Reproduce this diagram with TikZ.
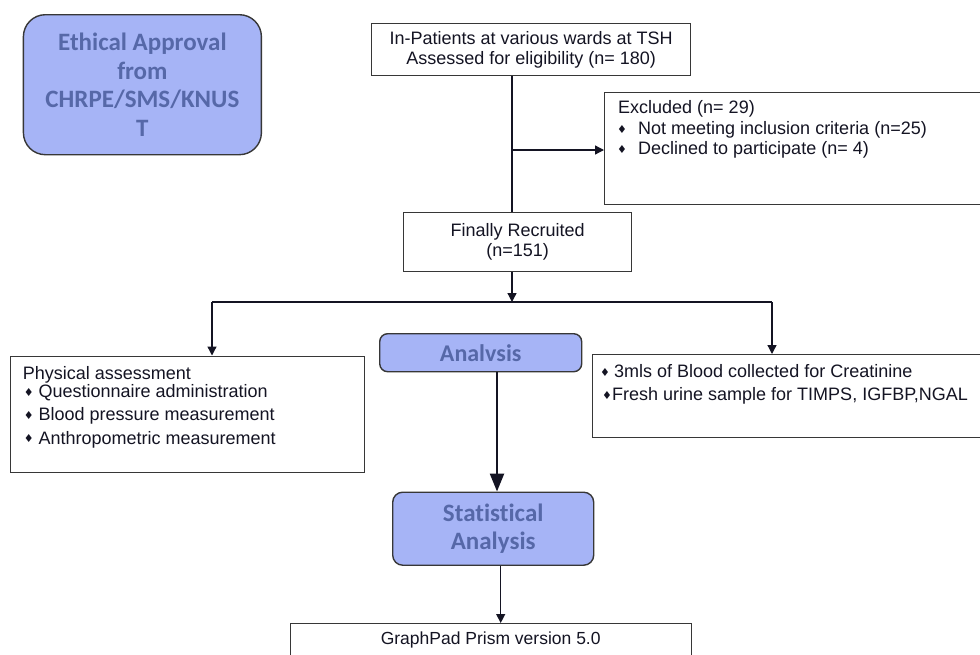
\documentclass[tikz,border=0pt]{standalone}
\usepackage{fontspec}
\setmainfont{Liberation Sans}
\newfontfamily\blufont[Ligatures={NoCommon}]{Carlito}
\newfontfamily\dejavu{DejaVu Sans}
\usetikzlibrary{arrows.meta}
\definecolor{bfill}{RGB}{166,180,246}
\definecolor{btext}{RGB}{86,104,168}
\definecolor{bdraw}{RGB}{55,55,55}
\definecolor{ink}{RGB}{20,20,35}
\newcommand{\dia}{\raisebox{1pt}{\dejavu\fontsize{11}{11}\selectfont ♦}}
\begin{document}
\begin{tikzpicture}[x=1pt,y=-1pt,
  plainbox/.style={draw=bdraw, line width=1.4pt, fill=white, inner sep=0pt, anchor=north west,
    font=\fontsize{18}{20}\selectfont, text=ink, align=center},
  bluebox/.style={draw=bdraw, line width=1.4pt, fill=bfill, inner sep=0pt, anchor=north west,
    font=\blufont\bfseries\fontsize{25}{28.5}\selectfont, text=btext, align=center},
  txt/.style={font=\fontsize{18}{20}\selectfont, text=ink, inner sep=0pt, anchor=base west},
  bul/.style={inner sep=0pt, anchor=base, text=ink},
  conn/.style={draw=ink, line width=1.3pt},
  arr/.style={conn, -{Triangle[length=9pt,width=9pt]}},
  bigarr/.style={draw=ink, line width=2.4pt, -{Triangle[length=18pt,width=14pt]}}
]
\useasboundingbox (0,0) rectangle (980,654);
\fill[white] (0,0) rectangle (980,654);

% boxes
\node[bluebox, rounded corners=22pt, minimum width=238pt, minimum height=140pt] (eth) at (22.7,14)
  {Ethical Approval\\from\\CHRPE/SMS/KNUS\\T};
\node[plainbox, minimum width=319pt, minimum height=52pt] (box1) at (371,23)
  {In-Patients at various wards at TSH\\Assessed for eligibility (n= 180)};
\node[plainbox, minimum width=386pt, minimum height=112pt] (excl) at (604,92) {};
\node[plainbox, minimum width=228pt, minimum height=59pt] (fin) at (403,212)
  {Finally Recruited\\(n=151)};
\node[plainbox, minimum width=354pt, minimum height=116pt] (phys) at (10,355.5) {};
\node[bluebox, rounded corners=8pt, minimum width=202pt, minimum height=38pt,
  font=\blufont\bfseries\fontsize{24}{28}\selectfont] (ana) at (379,333) {Analvsis};
\node[plainbox, minimum width=398pt, minimum height=83pt] (rbox) at (592,354) {};
\node[bluebox, rounded corners=10pt, minimum width=201pt, minimum height=73pt] (stat) at (392,491.5)
  {Statistical\\Analysis};
\node[plainbox, minimum width=401pt, minimum height=60pt] (gp) at (290,623) {};

% texts
\node[txt] (exT) at (618,113.5) {Excluded (n= 29)};
\node[bul] (exB1) at (622,134) {\dia};
\node[txt] (exT1) at (638,134.5) {Not meeting inclusion criteria (n=25)};
\node[bul] (exB2) at (622,154) {\dia};
\node[txt] (exT2) at (638,154.5) {Declined to participate (n= 4)};

\node[txt] (phT) at (22.7,379) {Physical assessment};
\node[bul] (phB1) at (28.7,397) {\dia};
\node[txt] (phT1) at (38.3,397.3) {Questionnaire administration};
\node[bul] (phB2) at (28.7,420) {\dia};
\node[txt] (phT2) at (38.3,420.5) {Blood pressure measurement};
\node[bul] (phB3) at (28.7,443.5) {\dia};
\node[txt] (phT3) at (38.3,444) {Anthropometric measurement};

\node[bul] (rbB1) at (605,377) {\dia};
\node[txt] (rbT1) at (614,377.5) {3mls of Blood collected for Creatinine};
\node[bul] (rbB2) at (607,400) {\dia};
\node[txt] (rbT2) at (612,400.5) {Fresh urine sample for TIMPS, IGFBP,NGAL};

\node[font=\fontsize{17.5}{20}\selectfont, text=ink, inner sep=0pt] (gpT) at (490.7,640) {GraphPad Prism version 5.0};

% connector points
\coordinate (vx) at (512,0);
\coordinate (split) at (512,150);
\coordinate (hl) at (512,302);
\coordinate (hlL) at (212,302);
\coordinate (hlR) at (772,302);
\coordinate (ax) at (497,0);
\coordinate (sx) at (500.7,0);

% connectors
\draw[conn] (box1.south -| vx) -- (fin.north -| vx);
\draw[arr] (split) -- (excl.west |- split);
\draw[arr] (fin.south -| vx) -- (hl);
\draw[conn] (hlL) -- (hlR);
\draw[arr] (hlL) -- (phys.north -| hlL);
\draw[arr] (hlR) -- (rbox.north -| hlR);
\draw[bigarr] (ana.south -| ax) -- (stat.north -| ax);
\draw[arr] (stat.south -| sx) -- (gp.north -| sx);
\end{tikzpicture}
\end{document}
